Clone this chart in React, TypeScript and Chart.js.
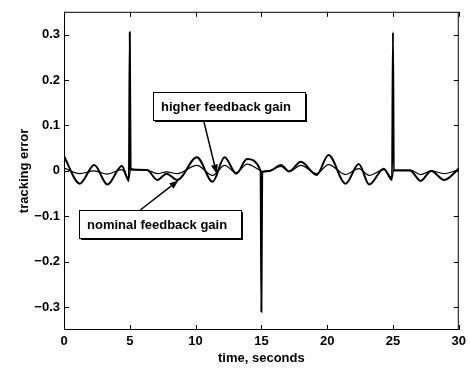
import React, { useEffect, useRef } from "react";
import { Chart, registerables } from "chart.js";

Chart.register(...registerables);

// nominal feedback gain (larger oscillation)
const tNominal = [0, 1.2, 2.3, 3.3, 4.4, 4.93, 5.0, 5.06, 6.3, 7.1, 7.8, 8.6, 10.1, 11.3, 12.2, 13.1, 13.9, 14.94, 15.0, 15.06, 15.6, 16.5, 17.1, 18.0, 19.2, 20.1, 21.4, 22.4, 23.2, 24.3, 24.93, 25.0, 25.06, 26.3, 27.1, 27.9, 28.9, 30];
const yNominal = [0.032, -0.028, 0.013, -0.03, 0.011, -0.022, 0.305, 0.004, 0.002, -0.02, -0.006, -0.02, 0.03, -0.024, 0.03, -0.006, 0.026, 0.0, -0.31, -0.002, 0.0, 0.013, -0.001, 0.02, -0.009, 0.035, -0.028, 0.015, -0.03, 0.005, -0.02, 0.305, 0.001, 0.001, -0.022, 0.0, -0.02, 0.005];

// higher feedback gain (smaller oscillation)
const tHigher = [0, 1.2, 2.3, 3.3, 4.4, 4.93, 5.06, 6.3, 7.1, 7.8, 8.6, 10.1, 11.3, 12.2, 13.1, 13.9, 14.94, 15.06, 15.6, 16.5, 17.1, 18.0, 19.2, 20.1, 21.4, 22.4, 23.2, 24.3, 24.93, 25.06, 26.3, 27.1, 27.9, 28.9, 30];
const yHigher = [0.006, -0.006, 0.0, -0.007, 0.003, -0.017, 0.003, 0.002, -0.006, -0.002, -0.006, 0.012, -0.01, 0.012, -0.004, 0.015, 0.0, -0.002, 0.0, 0.01, -0.002, 0.012, -0.006, 0.014, -0.008, 0.005, -0.01, 0.003, -0.015, 0.002, 0.002, -0.008, 0.0, -0.006, 0.003];

const xTicks = [0, 5, 10, 15, 20, 25, 30];
const yTicks = [-0.3, -0.2, -0.1, 0, 0.1, 0.2, 0.3];

const xTitle = "time, seconds";
const yTitle = "tracking error";

// annotation boxes: text, box-left (time), box-centre (error), arrow start, arrow tip (data units)
const notes = [
  { text: "higher feedback gain", left: 6.74, cy: 0.1435, from: [10.6, 0.112], to: [11.6, -0.006] },
  { text: "nominal feedback gain", left: 1.14, cy: -0.117, from: [5.8, -0.086], to: [8.7, -0.021] },
];

const FONT = "'Liberation Sans', Arial, Helvetica, sans-serif";

const fmt = (v: number) => {
  if (Math.abs(v) < 1e-9) return "0";
  const s = Math.abs(v).toFixed(1);
  return v < 0 ? "\u2212" + s : s;
};

const framePlugin = {
  id: "frameAndNotes",
  afterDraw(chart: any) {
    const { ctx, chartArea: a, scales } = chart;
    const x = scales.x;
    const y = scales.y;
    ctx.save();
    ctx.strokeStyle = "#000";
    ctx.lineWidth = 1;
    ctx.strokeRect(a.left + 0.5, a.top + 0.5, a.right - a.left - 1, a.bottom - a.top - 1);
    const tl = 5;
    ctx.beginPath();
    for (const v of xTicks) {
      const px = Math.round(x.getPixelForValue(v)) + 0.5;
      ctx.moveTo(px, a.bottom);
      ctx.lineTo(px, a.bottom - tl);
      ctx.moveTo(px, a.top);
      ctx.lineTo(px, a.top + tl);
    }
    for (const v of yTicks) {
      const py = Math.round(y.getPixelForValue(v)) + 0.5;
      ctx.moveTo(a.left, py);
      ctx.lineTo(a.left + tl, py);
      ctx.moveTo(a.right, py);
      ctx.lineTo(a.right - tl, py);
    }
    ctx.stroke();

    ctx.font = `bold 13px ${FONT}`;
    ctx.textBaseline = "middle";
    ctx.textAlign = "left";
    for (const n of notes) {
      const bx = Math.round(x.getPixelForValue(n.left));
      const cy = Math.round(y.getPixelForValue(n.cy));
      const w = Math.round(ctx.measureText(n.text).width) + 22;
      const h = 28;
      const by = cy - h / 2;
      // arrow
      const fx = x.getPixelForValue(n.from[0]);
      const fy = y.getPixelForValue(n.from[1]);
      const tx = x.getPixelForValue(n.to[0]);
      const ty = y.getPixelForValue(n.to[1]);
      const ang = Math.atan2(ty - fy, tx - fx);
      const L = 9, W = 3.5;
      const bxh = tx - L * Math.cos(ang);
      const byh = ty - L * Math.sin(ang);
      ctx.lineWidth = 1.5;
      ctx.beginPath();
      ctx.moveTo(fx, fy);
      ctx.lineTo(bxh, byh);
      ctx.stroke();
      ctx.beginPath();
      ctx.moveTo(tx, ty);
      ctx.lineTo(bxh + W * Math.sin(ang), byh - W * Math.cos(ang));
      ctx.lineTo(bxh - W * Math.sin(ang), byh + W * Math.cos(ang));
      ctx.closePath();
      ctx.fillStyle = "#000";
      ctx.fill();
      // shadow
      ctx.fillStyle = "#000";
      ctx.fillRect(bx + 2, by + 2, w, h);
      ctx.fillStyle = "#fff";
      ctx.fillRect(bx, by, w, h);
      ctx.lineWidth = 1;
      ctx.strokeStyle = "#000";
      ctx.strokeRect(bx + 0.5, by + 0.5, w, h);
      ctx.fillStyle = "#000";
      ctx.fillText(n.text, bx + 8, cy + 1);
    }
    ctx.restore();
  },
};

export default function App() {
  const ref = useRef<HTMLCanvasElement | null>(null);
  useEffect(() => {
    const canvas = ref.current;
    if (!canvas) return;
    const tickFont = { family: FONT, size: 13, weight: "bold" as const };
    const chart = new Chart(canvas, {
      type: "line",
      data: {
        datasets: [
          {
            label: "nominal feedback gain",
            data: tNominal.map((t, i) => ({ x: t, y: yNominal[i] })),
            borderColor: "#000",
            borderWidth: 2,
            pointRadius: 0,
            cubicInterpolationMode: "monotone",
            fill: false,
          },
          {
            label: "higher feedback gain",
            data: tHigher.map((t, i) => ({ x: t, y: yHigher[i] })),
            borderColor: "#000",
            borderWidth: 1.2,
            pointRadius: 0,
            cubicInterpolationMode: "monotone",
            fill: false,
          },
        ],
      },
      options: {
        animation: false,
        responsive: false,
        maintainAspectRatio: false,
        layout: { padding: { top: 10, right: 10, left: 0, bottom: 0 } },
        plugins: { legend: { display: false }, tooltip: { enabled: false } },
        scales: {
          x: {
            type: "linear",
            min: 0,
            max: 30,
            grid: { display: false, drawTicks: false },
            border: { display: false },
            ticks: { padding: 4, font: tickFont, color: "#000", callback: (v: any) => String(v) },
            afterBuildTicks: (s: any) => {
              s.ticks = xTicks.map((v) => ({ value: v }));
            },
            afterFit: (s: any) => {
              s.height = 38;
            },
            title: { display: true, text: xTitle, font: tickFont, color: "#000", padding: { top: 0, bottom: 2 } },
          },
          y: {
            type: "linear",
            min: -0.35,
            max: 0.35,
            grid: { display: false, drawTicks: false },
            border: { display: false },
            ticks: { padding: 4, font: tickFont, color: "#000", callback: (v: any) => fmt(Number(v)) },
            afterBuildTicks: (s: any) => {
              s.ticks = yTicks.map((v) => ({ value: v }));
            },
            afterFit: (s: any) => {
              s.width = 64;
            },
            title: { display: true, text: yTitle, font: tickFont, color: "#000", padding: { top: 17, bottom: 0 } },
          },
        },
      },
      plugins: [framePlugin],
    });
    return () => chart.destroy();
  }, []);
  return (
    <canvas
      ref={ref}
      width={470}
      height={368}
      style={{ position: "fixed", left: 0, top: 0, width: 470, height: 368, background: "#fff" }}
    />
  );
}
